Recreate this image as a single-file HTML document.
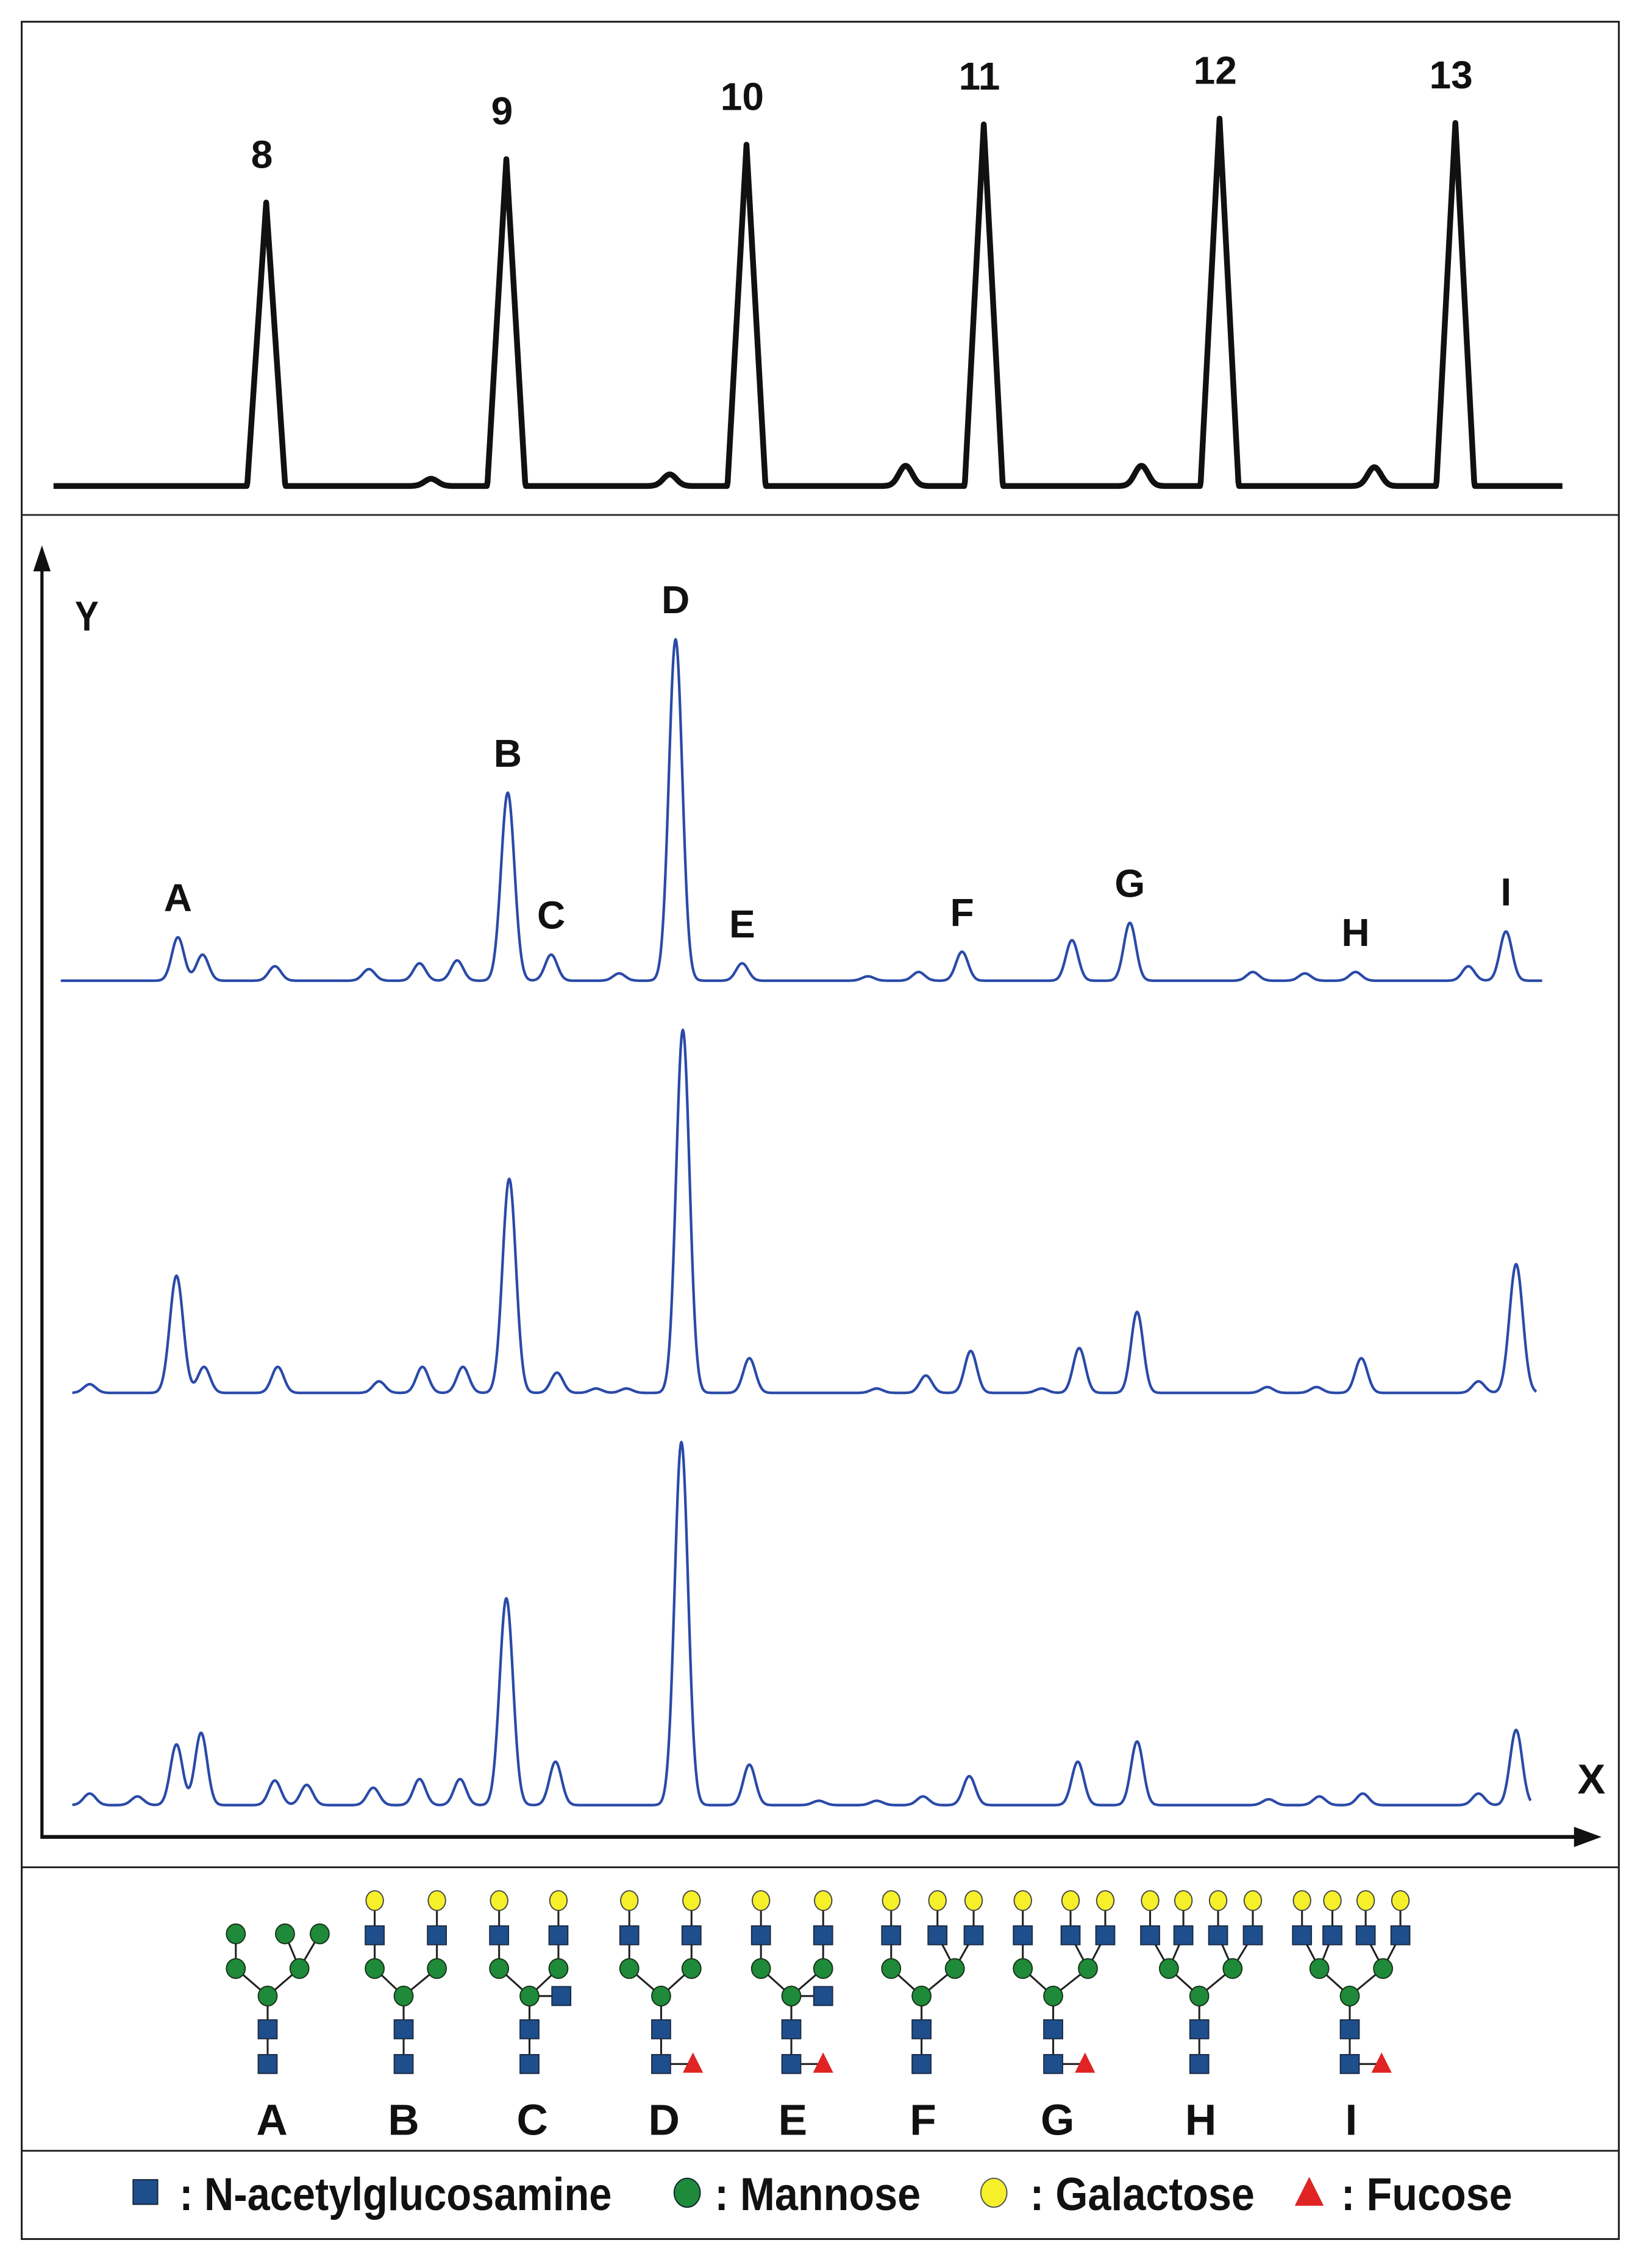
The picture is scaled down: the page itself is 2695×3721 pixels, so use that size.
<!DOCTYPE html>
<html><head><meta charset="utf-8"><style>
html,body{margin:0;padding:0;background:#fff}
svg{display:block}
text{font-family:"Liberation Sans",sans-serif;font-weight:bold;fill:#111}
</style></head><body>
<svg id="fig" xmlns="http://www.w3.org/2000/svg" width="2695" height="3721" viewBox="0 0 1135.7 1568">
<rect x="15" y="15" width="1104" height="1533" fill="none" stroke="#222" stroke-width="1.3"/>
<line x1="15" y1="356" x2="1119" y2="356" stroke="#222" stroke-width="1.2"/>
<line x1="15" y1="1291" x2="1119" y2="1291" stroke="#222" stroke-width="1.2"/>
<line x1="15" y1="1487" x2="1119" y2="1487" stroke="#222" stroke-width="1.2"/>
<g id="ladder"></g>
<g id="traces"></g>
<line x1="29" y1="388" x2="29" y2="1271" stroke="#111" stroke-width="2.2"/>
<polygon points="29,377 23,395 35,395" fill="#111"/>
<line x1="28" y1="1270" x2="1095" y2="1270" stroke="#111" stroke-width="2.6"/>
<polygon points="1107,1270 1088,1263 1088,1277" fill="#111"/>
<text x="60" y="436" font-size="29" text-anchor="middle" transform="translate(60,0) scale(0.85,1) translate(-60,0)">Y</text>
<text x="1100" y="1240" font-size="29" text-anchor="middle">X</text>
<g id="glycans"></g>
<g id="legend">
<rect x="92" y="1507" width="17" height="17" fill="#1f4e8c" stroke="#123" stroke-width="0.8"/>
<text x="124" y="1528" font-size="32" transform="translate(124,0) scale(0.88,1) translate(-124,0)">: N-acetylglucosamine</text>
<ellipse cx="475" cy="1516" rx="9" ry="10" fill="#1e8a3a" stroke="#123" stroke-width="0.8"/>
<text x="494" y="1528" font-size="32" transform="translate(494,0) scale(0.9,1) translate(-494,0)">: Mannose</text>
<ellipse cx="687" cy="1516" rx="9" ry="10" fill="#f5f02a" stroke="#555" stroke-width="0.8"/>
<text x="712" y="1528" font-size="32" transform="translate(712,0) scale(0.9,1) translate(-712,0)">: Galactose</text>
<polygon points="905,1505 895,1525 915,1525" fill="#e02424"/>
<text x="927" y="1528" font-size="32" transform="translate(927,0) scale(0.9,1) translate(-927,0)">: Fucose</text>
</g>
</svg>
<script>
const NS="http://www.w3.org/2000/svg";
// ladder data
const ladderLabels=["8","9","10","11","12","13"];
const ladderPos=[184,350,516,680,843,1006];
const ladderHeights=[196,226,236,250,254,251];
const ladderBumpPos=[298,463,626,789,950];
const ladderBumpHeights=[5,8,14,14,13];
// sample trace data
const peakLabels=["A","B","C","D","E","F","G","H","I"];
const t1Pos=[123,140,190,255,290,316,351,381,428,467,513,600,635,665,741,781,866,902,937,1015,1041];
const t1Heights=[30,18,10,8,12,14,130,18,5,236,12,3,6,20,28,40,6,5,6,10,34];
const t1LabelIdx=[0,6,7,9,10,13,15,18,20];
const t2Pos=[62,122,141,192,262,292,320,352,385,412,433,472,518,606,640,671,720,746,786,876,910,941,1022,1048];
const t2Heights=[6,81,18,18,8,18,18,148,14,3,3,251,24,3,12,29,3,31,56,4,4,24,8,89];
const t3Pos=[62,95,122,139,190,212,258,290,318,350,384,471,518,566,606,638,670,745,786,877,912,942,1022,1048];
const t3Heights=[8,6,42,50,17,14,12,18,18,143,30,251,28,3,3,6,20,30,44,4,6,8,8,52];

function mk(tag,attrs,parent){const e=document.createElementNS(NS,tag);for(const k in attrs)e.setAttribute(k,attrs[k]);parent.appendChild(e);return e;}
function tracePath(x0,x1,base,pos,hts,sig,tri){
  let d="";
  for(let x=x0;x<=x1;x+=0.5){
    let y=0;
    for(let i=0;i<pos.length;i++){
      const s=hts[i]>60?sig*1.1:sig;
      if(tri&&hts[i]>60){const w=s*2.6;const dx=Math.abs(x-pos[i]);if(dx<w)y+=hts[i]*(1-dx/w);}
      else y+=hts[i]*Math.exp(-((x-pos[i])**2)/(2*s*s));
    }
    d+=(x===x0?"M":"L")+x.toFixed(1)+","+(base-y).toFixed(1);
  }
  return d;
}
// ladder
const lg=document.getElementById("ladder");
const lp=mk("path",{d:tracePath(37,1080,336,ladderPos.concat(ladderBumpPos),ladderHeights.concat(ladderBumpHeights),4.6,true),fill:"none",stroke:"#111","stroke-width":"4","stroke-linejoin":"round"},lg);


ladderLabels.forEach((l,i)=>{
  const t=mk("text",{x:ladderPos[i]-3,y:336-ladderHeights[i]-24,"font-size":"27","text-anchor":"middle"},lg);
  t.textContent=l;
  
  
});
// traces
const tg=document.getElementById("traces");
const traces=[[42,1066,678,t1Pos,t1Heights],[50,1062,963,t2Pos,t2Heights],[50,1058,1248,t3Pos,t3Heights]];
traces.forEach((tr,k)=>{
  const p=mk("path",{d:tracePath(tr[0],tr[1],tr[2],tr[3],tr[4],4.2,false),fill:"none",stroke:"#2a4aa8","stroke-width":"1.8","stroke-linejoin":"round"},tg);
  
  
});
peakLabels.forEach((l,i)=>{
  const j=t1LabelIdx[i];
  const t=mk("text",{x:t1Pos[j],y:678-t1Heights[j]-18,"font-size":"27","text-anchor":"middle"},tg);
  t.textContent=l;
  
  
});
// glycans
const gg=document.getElementById("glycans");
const Y={gal:1314,sq:1338,man:1361,core:1380,s1:1403,s2:1427};
function ln(x1,y1,x2,y2){mk("line",{x1,y1,x2,y2,stroke:"#222","stroke-width":"1.3"},gg);}
function sq(x,y){mk("rect",{x:x-6.5,y:y-6.5,width:13,height:13,fill:"#1f4e8c",stroke:"#1a2a40","stroke-width":"0.8"},gg);}
function man(x,y){mk("ellipse",{cx:x,cy:y,rx:6.5,ry:6.8,fill:"#1e8a3a",stroke:"#183018","stroke-width":"0.8"},gg);}
function gal(x,y){mk("ellipse",{cx:x,cy:y,rx:6,ry:6.8,fill:"#f5f02a",stroke:"#444","stroke-width":"0.8"},gg);}
function fuc(x,y){mk("polygon",{points:`${x},${y-8} ${x-7},${y+6} ${x+7},${y+6}`,fill:"#e02424"},gg);}
function core(c,fucose,bis){
  ln(c,Y.core,c,Y.s2);
  if(fucose){ln(c,Y.s2,c+22,Y.s2);}
  if(bis){ln(c,Y.core,c+22,Y.core);sq(c+22,Y.core);}
  sq(c,Y.s1);sq(c,Y.s2);
  if(fucose)fuc(c+22,Y.s2);
}
function arm(c,mx,tops){
  ln(c,Y.core,mx,Y.man);
  tops.forEach(tx=>{ln(mx,Y.man,tx,Y.sq);ln(tx,Y.sq,tx,Y.gal);});
}
function drawGlycan(c,left,right,fucose,bis){
  core(c,fucose,bis);
  arm(c,left[0],left[1]);arm(c,right[0],right[1]);
  [left,right].forEach(a=>{a[1].forEach(tx=>{sq(tx,Y.sq);gal(tx,Y.gal);});});
  [left,right].forEach(a=>man(a[0],Y.man));
  man(c,Y.core);
}
ln(185,1380,185,1427);ln(185,1380,163,1361);ln(185,1380,207,1361);ln(163,1361,163,1337);ln(207,1361,197,1337);ln(207,1361,221,1337);
sq(185,1403);sq(185,1427);man(163,1337);man(197,1337);man(221,1337);man(163,1361);man(207,1361);man(185,1380);
drawGlycan(279,[259,[259]],[302,[302]],false,false);
drawGlycan(366,[345,[345]],[386,[386]],false,true);
drawGlycan(457,[435,[435]],[478,[478]],true,false);
drawGlycan(547,[526,[526]],[569,[569]],true,true);
drawGlycan(637,[616,[616]],[660,[648,673]],false,false);
drawGlycan(728,[707,[707]],[752,[740,764]],true,false);
drawGlycan(829,[808,[795,818]],[852,[842,866]],false,false);
drawGlycan(933,[912,[900,921]],[956,[944,968]],true,false);
const glyLabels=["A","B","C","D","E","F","G","H","I"];
const glyX=[188,279,368,459,548,638,731,830,934];
glyLabels.forEach((l,i)=>{
  const t=mk("text",{x:glyX[i],y:1476,"font-size":"30","text-anchor":"middle"},gg);
  t.textContent=l;
  
  
});
</script>
</body></html>
